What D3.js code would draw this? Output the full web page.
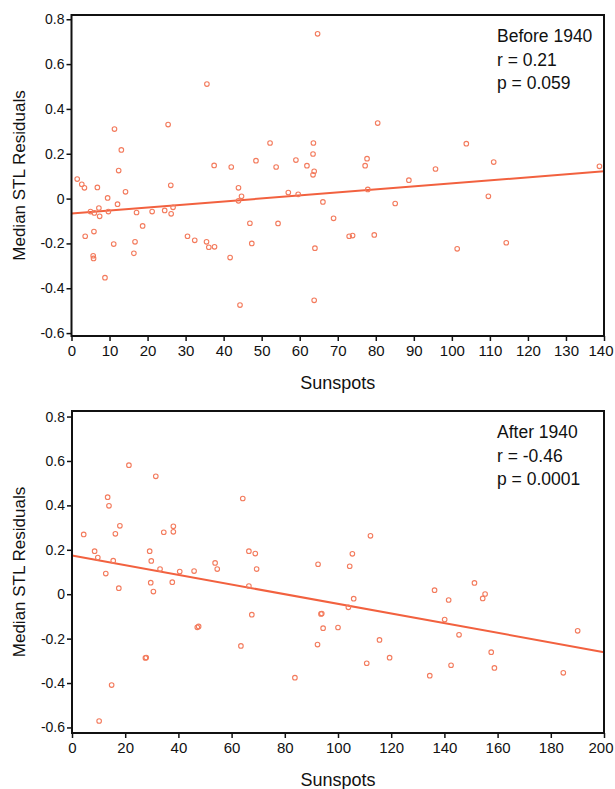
<!DOCTYPE html>
<html>
  <head>
    <meta charset="utf-8">
    <title>Sunspots vs Median STL Residuals</title>
    <script src="https://d3js.org/d3.v7.min.js"></script>
    <style>
      body { margin: 0; background: #fff; }
      text { font-family: "Liberation Sans", Arial, sans-serif; fill: #111; }
    </style>
  </head>

  <body>

<svg id="scatter"></svg>

<script>

// values
let beforeSunspots = [64.7, 35.6, 11.3, 25.4, 13.1, 12.4, 1.5, 37.5, 42, 48.5, 52.2, 53.8, 59, 61.9, 63.6, 63.5,
  63.8, 63.5, 2.7, 3.4, 6.8, 9.5, 14.2, 12.1, 5, 6, 7.2, 7.4, 9.7, 17.1, 21.2, 24.5, 26.2, 26.7, 26.1, 3.6,
  5.9, 5.7, 5.8, 8.8, 11.1, 16.7, 16.4, 18.7, 30.5, 32.4, 35.5, 36.1, 37.6, 41.7, 44.3, 43.9, 44.7, 43.9,
  46.9, 47.4, 54.3, 57, 59.6, 64, 63.8, 66.1, 68.9, 80.5, 77.7, 77.2, 103.8, 95.7, 111, 138.8, 88.7, 77.9,
  109.6, 85.1, 73, 73.9, 79.6, 101.4, 114.3];
let beforeResiduals = [0.735, 0.511, 0.31, 0.33, 0.217, 0.125, 0.087, 0.148, 0.141, 0.169, 0.248, 0.141, 0.172,
  0.147, 0.248, 0.199, 0.122, 0.106, 0.064, 0.048, 0.05, 0.003, 0.03, -0.025, -0.058, -0.064, -0.042, -0.079,
  -0.058, -0.062, -0.058, -0.053, -0.068, -0.039, 0.059, -0.168, -0.147, -0.255, -0.267, -0.353, -0.203,
  -0.193, -0.244, -0.122, -0.168, -0.186, -0.193, -0.217, -0.215, -0.263, -0.475, 0.048, 0.01, -0.01, -0.11,
  -0.2, -0.111, 0.027, 0.019, -0.221, -0.454, -0.015, -0.088, 0.337, 0.178, 0.147, 0.245, 0.132, 0.163,
  0.144, 0.082, 0.041, 0.01, -0.022, -0.168, -0.165, -0.162, -0.224, -0.197];

let afterSunspots = [4.4, 8.5, 9.7, 12.7, 13.4, 13.9, 15.5, 16.3, 18, 17.6, 21.4, 31.5, 29.2, 29.8, 33.1, 29.6,
  30.6, 34.5, 38.1, 38.1, 37.7, 40.5, 45.9, 53.8, 54.6, 64.2, 66.5, 68.9, 69.4, 66.5, 92.5, 112.2, 105.4,
  104.4, 151.3, 136.3, 155.3, 105.9, 141.6, 154.4, 103.9, 100, 140.1, 145.5, 115.6, 110.8, 119.4, 134.5,
  142.5, 157.6, 158.8, 184.7, 190.1, 67.6, 47.1, 47.6, 63.5, 27.6, 27.9, 14.9, 10.2, 83.8, 93.6, 93.9, 94.4,
  92.3];
let afterResiduals = [0.269, 0.194, 0.165, 0.093, 0.437, 0.398, 0.151, 0.272, 0.308, 0.027, 0.581, 0.531, 0.194,
  0.15, 0.113, 0.052, 0.012, 0.279, 0.306, 0.281, 0.054, 0.102, 0.104, 0.141, 0.113, 0.431, 0.194, 0.183,
  0.113, 0.037, 0.135, 0.263, 0.182, 0.126, 0.051, 0.018, 0.001, -0.02, -0.026, -0.019, -0.059, -0.15,
  -0.114, -0.183, -0.206, -0.311, -0.286, -0.367, -0.32, -0.261, -0.332, -0.354, -0.165, -0.092, -0.149,
  -0.145, -0.233, -0.287, -0.285, -0.409, -0.571, -0.376, -0.089, -0.087, -0.153, -0.227];

// fitted lines (intercept at 0 sunspots, slope per sunspot)
let beforeFit = [-0.067, 0.00135];
let afterFit = [0.174, -0.002175];

let beforeLabels = ['Before 1940', 'r = 0.21', 'p = 0.059'];
let afterLabels = ['After 1940', 'r = -0.46', 'p = 0.0001'];

let yTicks = [-0.6, -0.4, -0.2, 0, 0.2, 0.4, 0.6, 0.8];
let beforeXTicks = [0, 10, 20, 30, 40, 50, 60, 70, 80, 90, 100, 110, 120, 130, 140];
let afterXTicks = [0, 20, 40, 60, 80, 100, 120, 140, 160, 180, 200];

// svg size
let config = {
  'svg': {width: 615, height: 789},
  'color': {point: '#f37b5d', line: '#f2613f'}
};

let svg = d3.select('body').select('#scatter');
svg.attr('width', config.svg.width);
svg.attr('height', config.svg.height);

// each panel: data + where it goes
let panels = [
  {
    x: beforeSunspots, y: beforeResiduals, fit: beforeFit, labels: beforeLabels,
    xTicks: beforeXTicks, xMax: 140,
    left: 71.5, right: 604, top: 15, bottom: 336, yDomain: [-0.613, 0.819]
  },
  {
    x: afterSunspots, y: afterResiduals, fit: afterFit, labels: afterLabels,
    xTicks: afterXTicks, xMax: 200,
    left: 72, right: 604, top: 411, bottom: 733, yDomain: [-0.625, 0.825]
  }
];

panels.forEach(drawPanel);

function drawPanel(p) {
  let xx = d3.scaleLinear().domain([0, p.xMax]).range([p.left, p.right]);
  let yy = d3.scaleLinear().domain(p.yDomain).range([p.bottom, p.top]);

  let g = svg.append('g');

  // y axis
  let yAxis = d3.axisLeft(yy)
    .tickValues(yTicks)
    .tickSize(5)
    .tickPadding(2)
    .tickFormat(d => d === 0 ? '0' : d.toFixed(1));
  let ya = g.append('g')
    .attr('transform', translate(p.left, 0))
    .call(yAxis);
  ya.select('.domain').remove();
  ya.selectAll('line').attr('stroke', '#111').attr('stroke-width', 1.5);
  ya.selectAll('text').style('font-size', '14px');

  // x axis
  let xAxis = d3.axisBottom(xx)
    .tickValues(p.xTicks)
    .tickSize(5)
    .tickPadding(4);
  let xa = g.append('g')
    .attr('transform', translate(0, p.bottom))
    .call(xAxis);
  xa.select('.domain').remove();
  xa.selectAll('line').attr('stroke', '#111').attr('stroke-width', 1.5);
  xa.selectAll('text').style('font-size', '15px');
  // last label sits at the window edge, keep it inside
  xa.selectAll('text')
    .filter(d => d === p.xMax)
    .style('text-anchor', 'end')
    .attr('dx', 9);

  // axis titles
  g.append('text')
    .attr('transform', translate(25, (p.top + p.bottom) / 2) + ' rotate(-90)')
    .style('text-anchor', 'middle')
    .style('font-size', '17px')
    .text('Median STL Residuals');

  g.append('text')
    .attr('x', (p.left + p.right) / 2)
    .attr('y', p.bottom + 53)
    .style('text-anchor', 'middle')
    .style('font-size', '18px')
    .text('Sunspots');

  // fitted line
  let ends = [0, p.xMax];
  g.append('path')
    .datum(ends)
    .attr('fill', 'none')
    .attr('stroke', config.color.line)
    .attr('stroke-width', 2)
    .attr('d', d3.line()
      .x(d => xx(d))
      .y(d => yy(p.fit[0] + p.fit[1] * d)));

  // points
  let pts = p.x.map((d, i) => ({s: d, v: p.y[i]}));
  g.append('g').selectAll('circle')
    .data(pts)
    .enter()
    .append('circle')
    .attr('cx', d => xx(d.s))
    .attr('cy', d => yy(d.v))
    .attr('r', 2.3)
    .attr('fill', 'none')
    .attr('stroke', config.color.point)
    .attr('stroke-width', 1.1);

  // annotation
  g.append('g').selectAll('text')
    .data(p.labels)
    .enter()
    .append('text')
    .attr('x', p.right - 107)
    .attr('y', (d, i) => p.top + 27 + i * 23.5)
    .style('font-size', '17.5px')
    .text(d => d);

  // frame
  g.append('rect')
    .attr('x', p.left)
    .attr('y', p.top)
    .attr('width', p.right - p.left)
    .attr('height', p.bottom - p.top)
    .attr('fill', 'none')
    .attr('stroke', '#111')
    .attr('stroke-width', 2);
}

// helper method to make translating easier
function translate(x, y) {
  return 'translate(' + x + ',' + y + ')';
}

</script>
</body>
</html>
